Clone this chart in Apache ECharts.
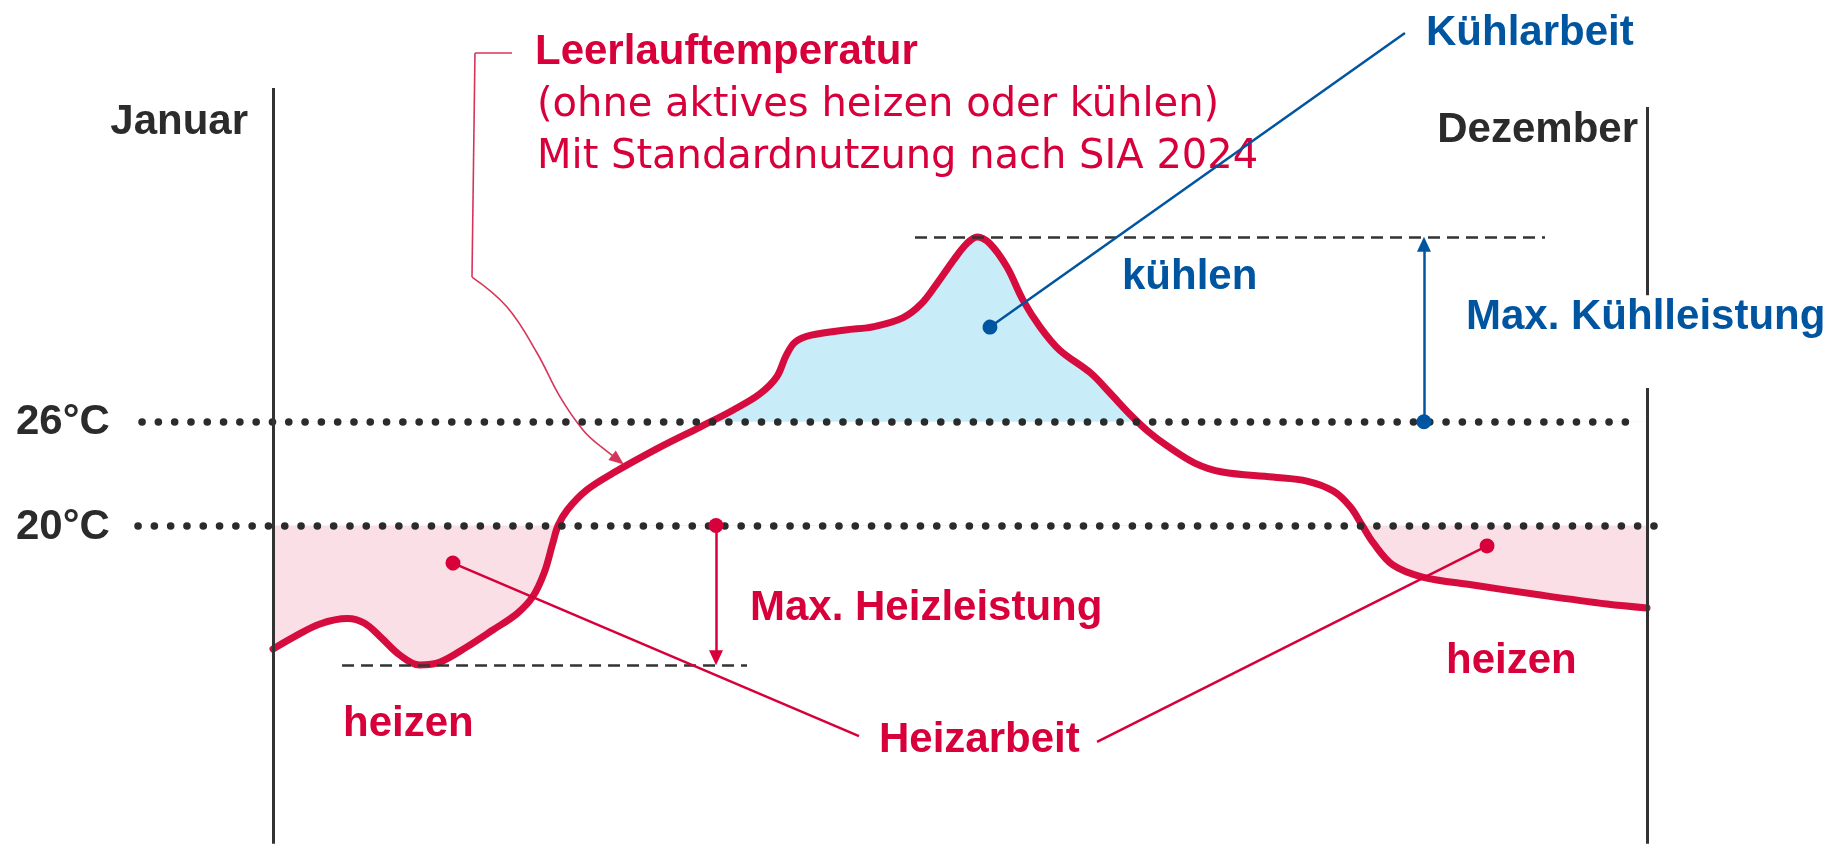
<!DOCTYPE html>
<html>
<head>
<meta charset="utf-8">
<title>Leerlauftemperatur</title>
<script src="https://cdn.jsdelivr.net/npm/echarts@6.0.0/dist/echarts.min.js"></script>
<style>
  html, body { margin: 0; padding: 0; background: #fff; }
  #chart { width: 1829px; height: 844px; }
</style>
</head>
<body>
<div id="chart"></div>
<script>
// Monat (0 = Januar, 12 = Dezember) und Leerlauftemperatur in °C, aus dem Bild gelesen
var months = [0, 0.18, 0.41, 0.65, 0.80, 0.94, 1.11, 1.28, 1.46, 1.69, 1.92, 2.13, 2.27, 2.37,
  2.44, 2.49, 2.57, 2.74, 2.97, 3.38, 3.73, 4.02, 4.25, 4.40, 4.48, 4.56, 4.70, 5.00, 5.25,
  5.50, 5.66, 5.80, 5.95, 6.06, 6.15, 6.26, 6.41, 6.55, 6.70, 6.87, 7.14, 7.31, 7.49, 7.65,
  7.81, 8.05, 8.29, 8.73, 9.03, 9.26, 9.41, 9.51, 9.61, 9.78, 10.04, 10.48, 11.07, 11.65, 12];
var idleTemp = [12.86, 13.55, 14.31, 14.62, 14.35, 13.55, 12.5, 11.94, 12.11, 12.97, 13.96, 14.9, 15.9, 17.3,
  18.9, 20.0, 20.9, 22.05, 23.03, 24.53, 25.69, 26.68, 27.6, 28.6, 29.8, 30.6, 31.0, 31.3, 31.5,
  32.0, 32.8, 34.0, 35.4, 36.3, 36.68, 36.3, 34.94, 33.03, 31.47, 30.14, 28.82, 27.66, 26.39, 25.4,
  24.6, 23.61, 23.09, 22.8, 22.57, 21.99, 21.07, 20.03, 18.99, 17.72, 17.02, 16.56, 15.98, 15.46, 15.23];
var limits = [26, 20];            // Kühlgrenze, Heizgrenze
var limitLabels = ['26°C', '20°C'];
var edgeLabels = ['Januar', 'Dezember'];

var RED = '#d7003a';
var LINE_RED = '#d60b3e';
var BLUE = '#0055a0';
var DARK = '#2b2b2b';
var COOL_FILL = '#c8edf8';
var HEAT_FILL = '#fae0e6';
var BOLD = 'bold 42px "Liberation Sans", Arial, sans-serif';
var REG = '40px "DejaVu Sans", sans-serif';
var NONE = 'rgba(255,255,255,0)';
var SMOOTH = 0.35;

var chart = echarts.init(document.getElementById('chart'));

var curve = months.map(function (m, i) { return [m, idleTemp[i]]; });
var peak = Math.max.apply(null, idleTemp);
var low = Math.min.apply(null, idleTemp);

// eine Linie für markLine, Symbole als [typ, grösse]
function seg(a, b, style, s1, s2) {
  return [
    { coord: a, symbol: s1 ? s1[0] : 'none', symbolSize: s1 ? s1[1] : 0, lineStyle: style },
    { coord: b, symbol: s2 ? s2[0] : 'none', symbolSize: s2 ? s2[1] : 0 }
  ];
}

function areaSeries(origin) {
  return {
    type: 'line', data: curve, smooth: SMOOTH, symbol: 'none', silent: true, z: 1,
    lineStyle: { width: 0, opacity: 0 },
    areaStyle: { origin: origin, opacity: 1 }
  };
}

function label(text, x, y, font, color, align) {
  return {
    type: 'text', x: x, y: y, silent: true,
    style: { text: text, font: font, fill: color, align: align || 'left', verticalAlign: 'middle' }
  };
}

var dotted = { type: [0.1, 16.2], width: 7.5, cap: 'round', color: DARK };
var border = { type: 'solid', width: 3, color: '#333' };
var dashed = { type: [12, 7], width: 2.6, color: '#333' };
var blueThin = { type: 'solid', width: 2.5, color: BLUE };
var redThin = { type: 'solid', width: 2.5, color: RED };
var callout = { type: 'solid', width: 1.6, color: '#d8345a' };

var lines = [
  seg([-1.144, limits[0]], [11.913, limits[0]], dotted),
  seg([-1.179, limits[1]], [12.192, limits[1]], dotted),
  seg([0, 45.29], [0, 1.6], border),
  seg([12, 44.19], [12, 33.31], border),
  seg([12, 27.95], [12, 1.6], border),
  seg([5.607, peak], [11.109, peak], dashed),
  seg([0.603, low], [4.14, low], dashed),
  // max. Kühlleistung / Heizleistung
  seg([10.052, limits[0]], [10.052, peak - 0.42], blueThin, ['circle', 15], ['triangle', [14, 15]]),
  seg([3.869, limits[1]], [3.869, low + 0.42], redThin, ['circle', 15], ['triangle', [14, 15]]),
  // Kühlarbeit / Heizarbeit
  seg([9.886, 48.47], [6.262, 31.47], blueThin, null, ['circle', 15]),
  seg([1.572, 17.83], [5.118, 7.83], redThin, ['circle', 15]),
  seg([7.197, 7.49], [10.603, 18.82], redThin, null, ['circle', 15]),
  // Hinweislinie Leerlauftemperatur
  seg([2.087, 47.31], [1.764, 47.31], callout),
  seg([1.764, 47.31], [1.738, 34.36], callout),
  seg([2.856, 24.6], [3.013, 23.79], callout, null, ['triangle', [12, 15]])
];

var calloutCurve = [[1.738, 34.36], [2.044, 32.63], [2.306, 29.97], [2.507, 27.43], [2.707, 25.52], [2.856, 24.6]];

chart.setOption({
  animation: false,
  backgroundColor: '#fff',
  grid: { left: 0, right: 0, top: 0, bottom: 0 },
  xAxis: {
    type: 'value', min: -2.3843, max: 13.5895,
    axisLine: { show: false }, axisTick: { show: false }, axisLabel: { show: false }, splitLine: { show: false }
  },
  yAxis: {
    type: 'value', min: 1.5896, max: 50.3757,
    axisLine: { show: false }, axisTick: { show: false }, axisLabel: { show: false }, splitLine: { show: false }
  },
  visualMap: [
    {
      type: 'piecewise', show: false, seriesIndex: 0, dimension: 1,
      pieces: [{ min: -100, max: limits[0], color: NONE }, { min: limits[0], max: 100, color: COOL_FILL }],
      outOfRange: { color: NONE }
    },
    {
      type: 'piecewise', show: false, seriesIndex: 1, dimension: 1,
      pieces: [{ min: -100, max: limits[1], color: HEAT_FILL }, { min: limits[1], max: 100, color: NONE }],
      outOfRange: { color: NONE }
    }
  ],
  series: [
    areaSeries(limits[0]),
    areaSeries(limits[1]),
    {
      type: 'line', data: curve, smooth: SMOOTH, symbol: 'none', silent: true, z: 3,
      lineStyle: { color: LINE_RED, width: 7, cap: 'round', join: 'round' }
    },
    {
      type: 'line', data: calloutCurve, smooth: 0.4, symbol: 'none', silent: true, z: 3,
      lineStyle: { color: '#d8345a', width: 1.6 }
    },
    {
      type: 'line', data: [], silent: true, z: 4,
      markLine: {
        silent: true, animation: false, symbol: ['none', 'none'],
        label: { show: false }, emphasis: { disabled: true },
        data: lines
      }
    }
  ],
  graphic: [
    label(edgeLabels[0], 248, 122.3, BOLD, DARK, 'right'),
    label(edgeLabels[1], 1638, 130.3, BOLD, DARK, 'right'),
    label(limitLabels[0], 16, 422.3, BOLD, DARK),
    label(limitLabels[1], 16, 527.3, BOLD, DARK),
    label('Leerlauftemperatur', 535, 52.3, BOLD, RED),
    label('(ohne aktives heizen oder kühlen)', 537, 106, REG, RED),
    label('Mit Standardnutzung nach SIA 2024', 537, 158, REG, RED),
    label('Kühlarbeit', 1426, 33.3, BOLD, BLUE),
    label('kühlen', 1122, 277.3, BOLD, BLUE),
    label('Max. Kühlleistung', 1466, 317.3, BOLD, BLUE),
    label('Max. Heizleistung', 750, 608.3, BOLD, RED),
    label('heizen', 343, 724.3, BOLD, RED),
    label('heizen', 1446, 661.3, BOLD, RED),
    label('Heizarbeit', 879, 740.3, BOLD, RED)
  ]
});
</script>
</body>
</html>
